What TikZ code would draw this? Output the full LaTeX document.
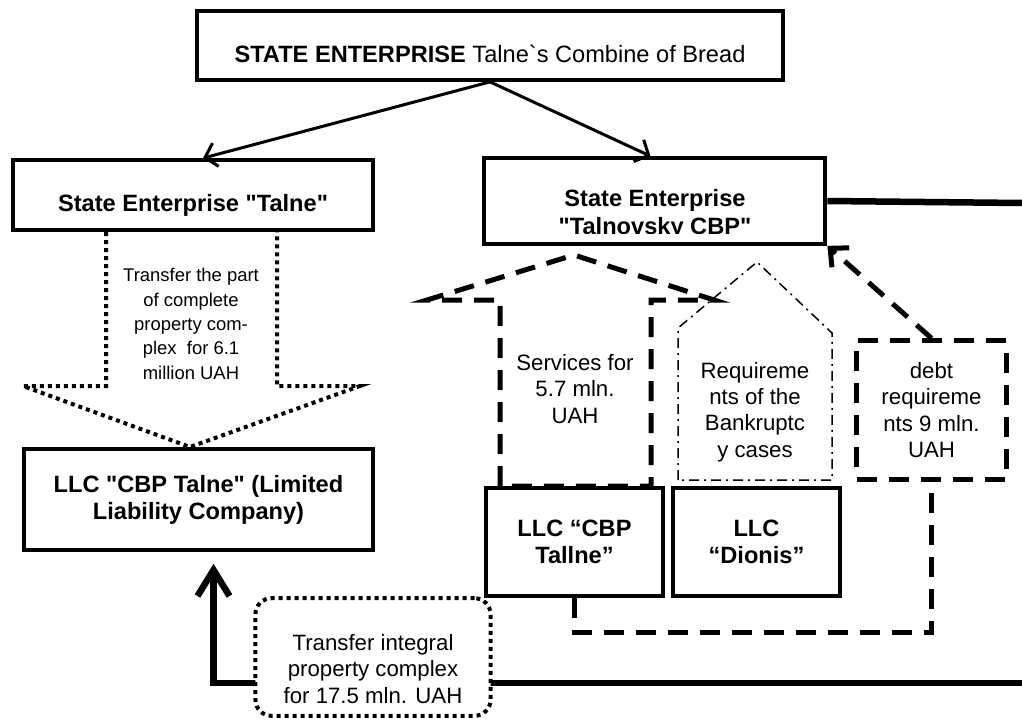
\documentclass[tikz,border=0pt]{standalone}
\usepackage{fontspec}
\setmainfont{Liberation Sans}
\usetikzlibrary{arrows.meta,positioning}
\tikzstyle{entbox} = [draw, line width=4bp, fill=white, inner sep=3bp, align=center, font=\bfseries\fontsize{23.7}{27}\selectfont]
\tikzstyle{housetext} = [align=center, inner sep=0pt, font=\fontsize{22.3}{26.5}\selectfont]
\tikzstyle{parttext} = [align=center, inner sep=0pt, font=\fontsize{18.5}{24.5}\selectfont]
\tikzstyle{linkarrow} = [line width=3bp, -{Straight Barb[length=11bp,width=24bp]}]
\tikzstyle{heavyline} = [line width=6.5bp]
\tikzstyle{dashline} = [line width=5bp, dash pattern=on 20bp off 12bp]
\tikzstyle{dotline} = [line width=4bp, dash pattern=on 4bp off 4bp]
\tikzstyle{dashdotline} = [line width=1.5bp, dash pattern=on 10bp off 5bp on 2bp off 5bp]
\newcommand{\dq}{\textquotedbl}
\begin{document}
\begin{tikzpicture}[x=1bp,y=-1bp]
\useasboundingbox (0,0) rectangle (1022,720);
\fill[white] (0,0) rectangle (1022,720);
% block arrows
\draw[dotline] (106,232) -- (106,386) -- (23,386) -- (190,447) -- (360,386) -- (277,386) -- (277,232);
\draw[dashline] (500,486) -- (500,300) -- (427,300) -- (574,255) -- (714,300) -- (651,300) -- (651,486) -- cycle;
\draw[dashdotline] (678,480) -- (678,328) -- (757,262) -- (832,333) -- (832,480) -- cycle;
% boxes
\node[entbox, minimum width=588, minimum height=69, text height=38bp, text depth=4bp] (state) at (490,45.5) {STATE ENTERPRISE \mdseries Talne\textasciigrave s Combine of Bread};
\node[entbox, minimum width=362, minimum height=70, text height=36bp, text depth=4bp] (talne) at (193,195) {State Enterprise \dq Talne\dq};
\begin{scope}
  \clip (481,156) rectangle (828,233);
  \node[entbox, draw=none, fill=none, font=\bfseries\fontsize{23.7}{28}\selectfont] (cbptext) at (655,214) {State Enterprise\\\dq Talnovsky CBP\dq};
\end{scope}
\node[entbox, fill=none, minimum width=343, minimum height=86] (cbp) at (654.5,201) {};
\node[entbox, minimum width=351, minimum height=101] (llc) at (198.5,499.5) {LLC \dq CBP Talne\dq\ (Limited\\Liability Company)};
\node[entbox, minimum width=177, minimum height=108] (tallne) at (574.5,542) {LLC “CBP\\Tallne”};
\node[entbox, minimum width=167, minimum height=108] (dionis) at (756.5,542) {LLC\\“Dionis”};
\node[dashline, draw, housetext, minimum width=150, minimum height=139] (debt) at (931.5,410) {debt\\requireme\\nts 9 mln.\\UAH};
\node[parttext] (parttxt) at (191,324) {Transfer the part\\of complete\\property com-\\plex\ \ for 6.1\\million UAH};
\node[housetext] (svctxt) at (575,389) {Services for\\5.7 mln.\\UAH};
\node[housetext] (reqtxt) at (755,412) {Requireme\\nts of the\\Bankruptc\\y cases};
% connectors
\draw[linkarrow] (state.south) -- ([xshift=10bp]talne.north);
\draw[linkarrow] (state.south) -- ([xshift=-4bp]cbp.north);
\coordinate (eastedge) at (1022,203);
\draw[heavyline] (cbp.east) -- (eastedge);
\draw[dashline, -{Straight Barb[length=14bp,width=26bp]}] (debt.north) -- (cbp.south east);
\draw[dashline] (tallne.south) -- ++(0,35) -| (debt.south);
\coordinate (southedge) at (1022,683);
\draw[heavyline, shorten >=12bp, -{Straight Barb[length=26bp,width=32bp]}] (southedge) -| ([xshift=15bp]llc.south);
\node[dotline, draw, fill=white, rounded corners=16bp, minimum width=236, minimum height=118] (transferbox) at (373,657) {};
\node[housetext] (transfertxt) at (373,669) {Transfer integral\\property complex\\for 17.5 mln. UAH};
\end{tikzpicture}
\end{document}
